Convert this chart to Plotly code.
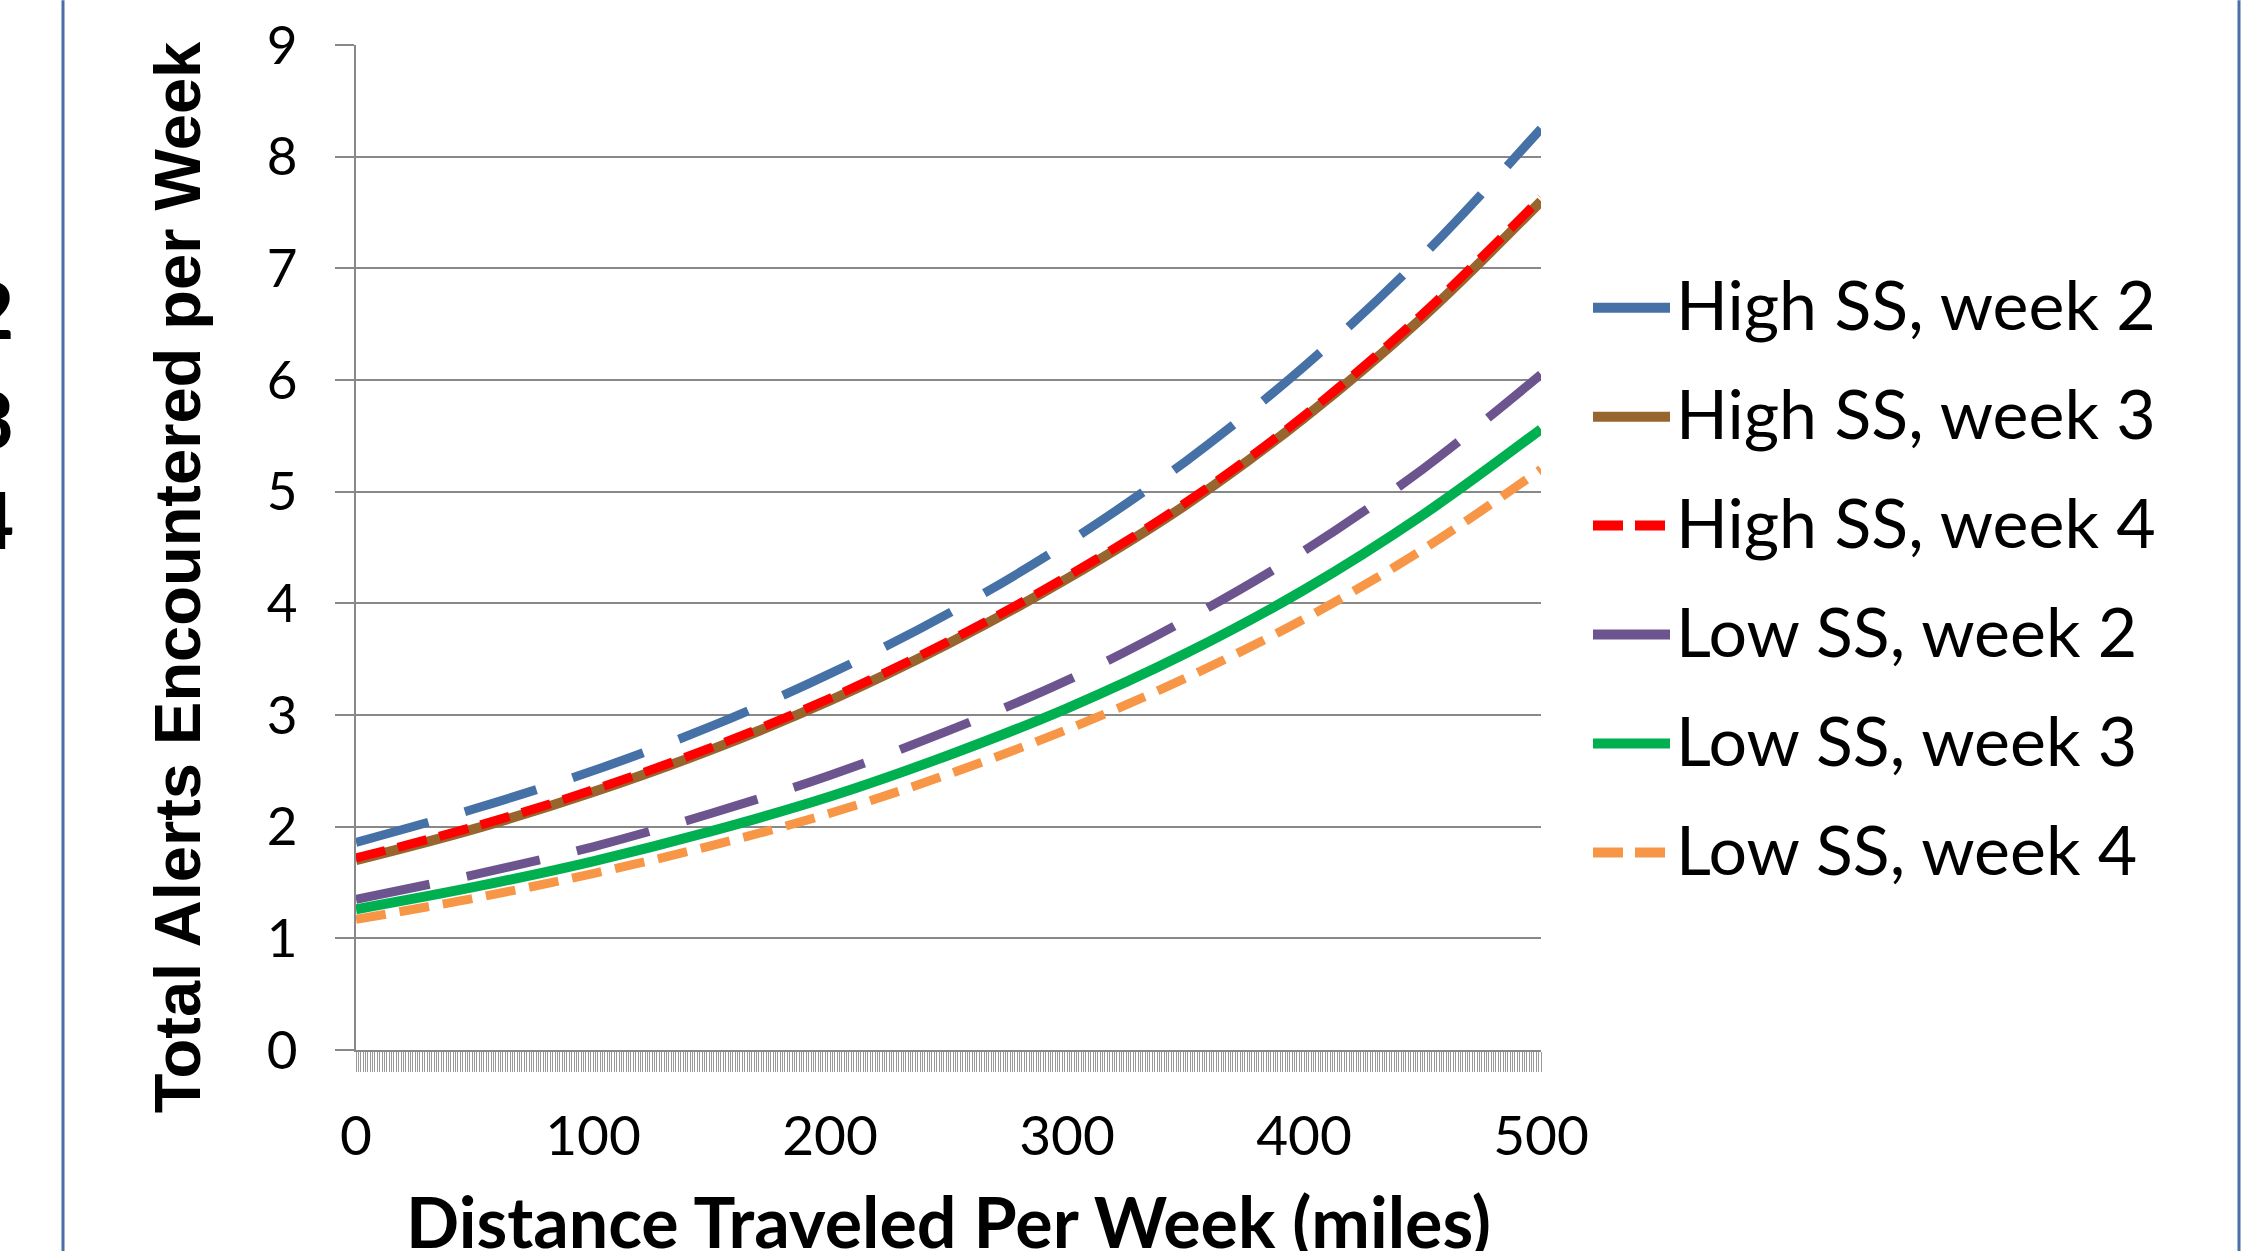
import plotly.graph_objects as go

# ---------------- data ----------------
miles = [0, 50, 100, 150, 200, 250, 300, 350, 400, 450, 500]

high_ss_week2 = [1.86, 2.16, 2.50, 2.90, 3.37, 3.91, 4.54, 5.27, 6.12, 7.11, 8.25]
high_ss_week3 = [1.70, 1.98, 2.31, 2.69, 3.13, 3.64, 4.22, 4.88, 5.66, 6.56, 7.60]
high_ss_week4 = [1.72, 2.00, 2.33, 2.71, 3.15, 3.66, 4.24, 4.90, 5.68, 6.59, 7.63]
low_ss_week2 = [1.35, 1.57, 1.82, 2.12, 2.46, 2.86, 3.31, 3.85, 4.47, 5.20, 6.05]
low_ss_week3 = [1.26, 1.46, 1.69, 1.96, 2.27, 2.64, 3.06, 3.55, 4.12, 4.79, 5.56]
low_ss_week4 = [1.17, 1.36, 1.58, 1.83, 2.12, 2.47, 2.87, 3.33, 3.86, 4.48, 5.20]

series_names = ["High SS, week 2", "High SS, week 3", "High SS, week 4",
                "Low SS, week 2", "Low SS, week 3", "Low SS, week 4"]
series_values = [high_ss_week2, high_ss_week3, high_ss_week4,
                 low_ss_week2, low_ss_week3, low_ss_week4]

x_ticks = [0, 100, 200, 300, 400, 500]
y_ticks = [0, 1, 2, 3, 4, 5, 6, 7, 8, 9]

x_title = "Distance Traveled Per Week (miles)"
y_title = "Total Alerts Encountered per Week"
edge_labels = ["2", "3", "4"]

# ---------------- styles ----------------
colors = ["#4571A7", "#98652F", "#FF0000", "#6C558E", "#00B050", "#F79646"]
widths = [9, 10, 9, 9, 10, 9]
dashes = ["75px,38px", "solid", "30px,13px", "75px,38px", "solid", "30px,14px"]
legend_dashes = ["solid", "solid", "30px,12px", "solid", "solid", "30px,12px"]

W, H = 2241, 1251
L, R, T, B = 356, 1541, 40, 1050   # plot area in pixels


def px_x(p):
    return (p - L) / (R - L)


def px_y(p):
    return (B - p) / (B - T)


fig = go.Figure()
for name, vals, c, w, d in zip(series_names, series_values, colors, widths, dashes):
    fig.add_trace(go.Scatter(
        x=miles, y=vals, name=name, mode="lines",
        line=dict(color=c, width=w, dash=d, shape="spline", smoothing=1.0),
        showlegend=False, hoverinfo="x+y+name",
    ))

grid = "#888888"
fig.update_layout(
    width=W, height=H, autosize=False,
    margin=dict(l=L, r=W - R, t=T, b=H - B, pad=0),
    paper_bgcolor="white", plot_bgcolor="white",
    font=dict(family="Lato, Carlito, sans-serif", color="black"),
)
fig.update_xaxes(
    range=[0, 500], tickvals=x_ticks, ticktext=[str(v) for v in x_ticks],
    showgrid=False, zeroline=False,
    showline=True, linecolor=grid, linewidth=2,
    ticks="outside", ticklen=20, tickcolor="#999999", tickwidth=1,
    minor=dict(dtick=1, ticks="outside", ticklen=20, tickcolor="#999999", tickwidth=1, showgrid=False),
    tickfont=dict(size=55, family="Lato, sans-serif", color="black"),
    ticklabelstandoff=17,
)
fig.update_yaxes(
    range=[0, 9], tickvals=y_ticks,
    showgrid=True, gridcolor=grid, gridwidth=2, zeroline=False,
    showline=True, linecolor=grid, linewidth=2,
    ticks="outside", ticklen=19, tickcolor=grid, tickwidth=2,
    tickfont=dict(size=53, family="Lato, sans-serif", color="black"),
    ticklabelstandoff=27,
)

annotations = []
shapes = []

# axis titles
annotations.append(dict(
    text=x_title, xref="paper", yref="paper", x=px_x(948), y=px_y(1222),
    xanchor="center", yanchor="middle", showarrow=False,
    font=dict(family="Lato, sans-serif", size=70, color="black", weight="bold"),
))
annotations.append(dict(
    text=y_title, xref="paper", yref="paper", x=px_x(177), y=px_y(575),
    xanchor="center", yanchor="middle", showarrow=False, textangle=-90,
    font=dict(family="Liberation Sans, Arial, sans-serif",
              size=65, color="black", weight="bold"),
))

# custom legend (long sample lines, as in the reference)
legend_y = [304, 413.5, 523, 632.5, 742, 851.5]
for name, c, d, ly in zip(series_names, colors, legend_dashes, legend_y):
    shapes.append(dict(
        type="line", xref="paper", yref="paper",
        x0=px_x(1593), x1=px_x(1670), y0=px_y(ly), y1=px_y(ly),
        line=dict(color=c, width=10, dash=d),
    ))
    annotations.append(dict(
        text=name, xref="paper", yref="paper", x=px_x(1674), y=px_y(ly - 4),
        xanchor="left", yanchor="middle", showarrow=False,
        font=dict(family="Lato, sans-serif", size=68, color="black"),
    ))

# cropped characters at the far left edge of the picture
for lbl, cy in zip(edge_labels, [305, 416, 516]):
    annotations.append(dict(
        text=lbl, xref="paper", yref="paper", x=px_x(16), y=px_y(cy),
        xanchor="right", yanchor="middle", showarrow=False,
        font=dict(family="Lato, sans-serif", size=78, color="black", weight="bold"),
    ))

# frame lines at left and right edges
for xp in (63, 2239):
    shapes.append(dict(
        type="line", xref="paper", yref="paper",
        x0=px_x(xp), x1=px_x(xp), y0=px_y(-5), y1=px_y(H + 5),
        line=dict(color="#4A6FA5", width=3),
    ))

fig.update_layout(annotations=annotations, shapes=shapes)
fig.write_html(
    "out.html",
    config={"displayModeBar": False},
    post_script="document.body.style.margin='0px';document.body.style.overflow='hidden';",
)
